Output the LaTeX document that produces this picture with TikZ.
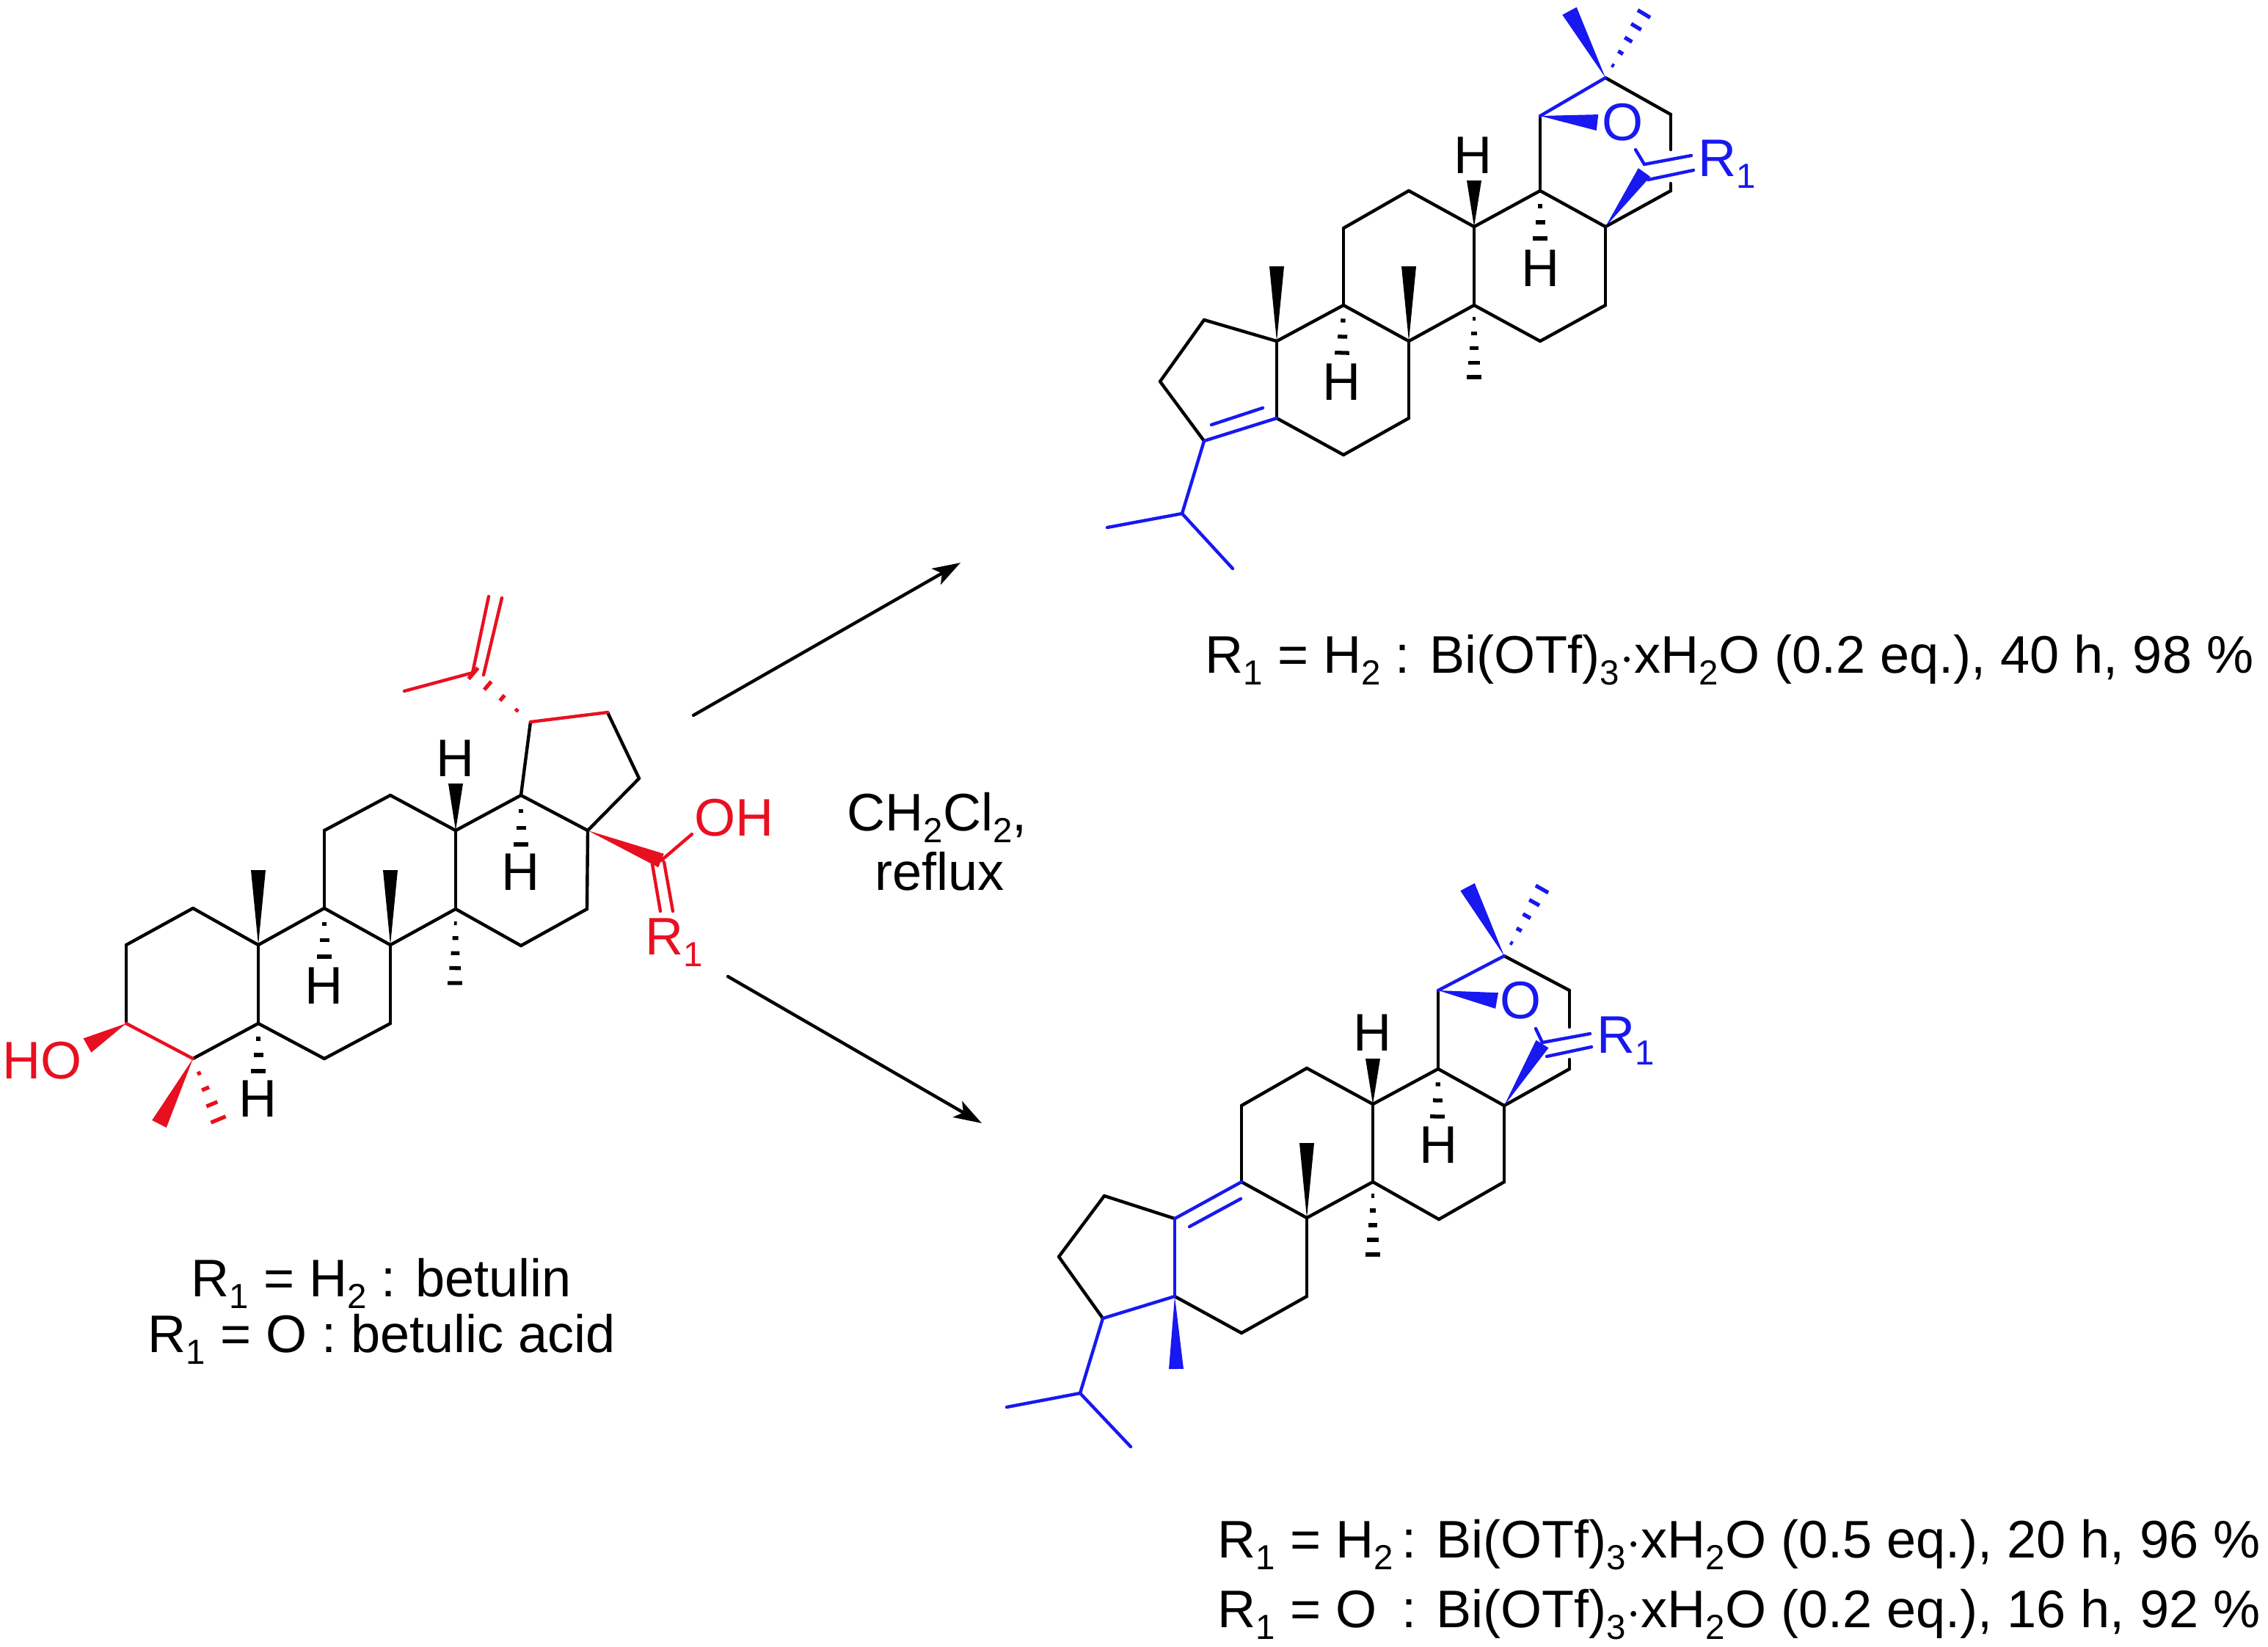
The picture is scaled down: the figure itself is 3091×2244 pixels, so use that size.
\documentclass[tikz,border=0pt]{standalone}
\usepackage{fontspec}
\setmainfont{Liberation Sans}
\usetikzlibrary{calc,arrows.meta}

\definecolor{redbond}{RGB}{232,16,32}
\definecolor{bluebond}{RGB}{24,24,240}

\newcommand{\subtxt}[1]{\raisebox{-4.8pt}[0pt][0pt]{\fontsize{13.5}{14}\selectfont #1}}
\newcommand{\wedgebond}[4][black]{\fill[#1] (#2) -- ($(#3)!#4!90:(#2)$) -- ($(#3)!#4!-90:(#2)$) -- cycle;}
\newcommand{\hashbond}[5][black]{%
    \foreach \i in {1,...,#5} {
        \pgfmathsetmacro{\t}{(\i-0.05)/#5}
        \draw[#1, line width=1.5pt, line cap=butt]
            ($($(#2)!\t!(#3)$)!\t*#4!90:(#3)$) -- ($($(#2)!\t!(#3)$)!\t*#4!-90:(#3)$);
    }
}

\tikzset{
    bond/.style={line width=1.25pt, line cap=round, line join=round},
    atomlabel/.style={inner sep=0pt, anchor=base},
    caption/.style={inner sep=0pt, anchor=base west},
    textsize/.style={font=\fontsize{20.5}{24}\selectfont}
}

\begin{document}
\begin{tikzpicture}[x=0.01cm, y=-0.01cm, textsize, >={Stealth[length=0.38cm, width=0.25cm, inset=0.09cm]}]
    \useasboundingbox (0,0) rectangle (3091,2244);

    % Betulin atoms
    \foreach \name/\px/\py in {la/172/1395, lb/172/1288, lc/263/1238, ld/352/1288, le/352/1395, lf/263/1443,
        lg/442/1238, lh/532/1288, li/532/1395, lj/442/1443, lk/442/1132, ll/532/1084, lm/621/1132, ln/621/1239,
        lo/710/1289, lp/800/1239, lq/801/1132, lr/710/1084, ls/723/984, lt/828/971, lu/871/1061,
        lv/644/917, lw/551/942, lvb/659/920, lx/666/813, ly/684/815,
        lz/901/1173, loh/943/1137, lr1a/889/1178, lr1b/900/1242, lr1c/905/1175, lr1d/917/1242,
        lmeA/352/1186, lmeB/532/1186, lmeC/620/1341, lmeD/217/1532, lmeE/298/1527,
        lhA/621/1068, lhB/710/1152, lhC/442/1305, lhD/352/1461, lho/119/1425}
        \coordinate (\name) at (\px,\py);

    % Betulin bonds
    \foreach \p/\q in {la/lb, lb/lc, lc/ld, ld/le, le/lf, ld/lg, lg/lh, lh/li, li/lj, lj/le, lg/lk, lk/ll, ll/lm,
        lm/ln, ln/lh, lm/lr, lr/lq, lq/lp, lp/lo, lo/ln, lr/ls, lt/lu, lu/lq}
        \draw[bond] (\p) -- (\q);
    \foreach \p/\q in {la/lf, ls/lt, lv/lw, lv/lx, lvb/ly, lz/loh, lr1a/lr1b, lr1c/lr1d}
        \draw[bond, redbond] (\p) -- (\q);
    \wedgebond{lm}{lhA}{0.1cm}
    \wedgebond{ld}{lmeA}{0.1cm}
    \wedgebond{lh}{lmeB}{0.1cm}
    \wedgebond[redbond]{lq}{lz}{0.1cm}
    \wedgebond[redbond]{la}{lho}{0.11cm}
    \wedgebond[redbond]{lf}{lmeD}{0.11cm}
    \hashbond{lr}{lhB}{0.1cm}{3}
    \hashbond{lg}{lhC}{0.1cm}{3}
    \hashbond{le}{lhD}{0.1cm}{3}
    \hashbond{ln}{lmeC}{0.1cm}{5}
    \hashbond[redbond]{lf}{lmeE}{0.11cm}{4}
    \hashbond[redbond]{ls}{lv}{0.1cm}{4}

    % Betulin labels
    \node[atomlabel] (lHa) at (621,1058) {H};
    \node[atomlabel] (lHb) at (710,1213) {H};
    \node[atomlabel] (lHc) at (442,1368) {H};
    \node[atomlabel] (lHd) at (352,1522) {H};
    \node[caption, text=redbond] (lHO) at (3,1470) {HO};
    \node[caption, text=redbond] (lOH) at (946,1139) {OH};
    \node[caption, text=redbond] (lR) at (879,1301) {R\subtxt{1}};

    % Upper product atoms
    \foreach \name/\px/\py in {ta/1641/436, tb/1581/520, tc/1641/601, td/1740/570, te/1740/465, tf/1831/416,
        tg/1920/465, th/1920/570, ti/1831/620, tj/1831/311, tk/1920/260, tl/2009/309, tm/2009/416, tn/2099/465,
        tp/2188/416, tq/2188/309, tr/2099/260, ts/2099/158, tt/2188/106, tu/2277/156, tv/2277/204, tw/2277/250,
        tx/2277/260, tdA/1651/579, tdB/1721/556, ty/1611/700, tz/1509/719, tzz/1680/775,
        tco/2241/224, tca/2229/204, tcb/2241/224, tcc/2305/212, tcd/2246/245, tce/2308/232, tcw/2241/235,
        tmeA/2139/15, tmeB/2241/18, tmeC/1740/363, tmeD/1920/363, tmeE/2009/515, toW/2177/167,
        thA/2009/246, thB/2099/326, thC/1829/482}
        \coordinate (\name) at (\px,\py);

    % Upper product bonds
    \foreach \p/\q in {ta/tb, tb/tc, ta/te, te/td, td/ti, ti/th, th/tg, tg/tf, tf/te, tf/tj, tj/tk, tk/tl,
        tl/tm, tm/tg, tm/tn, tn/tp, tp/tq, tq/tx, tx/tw, tq/tr, tr/tl, tr/ts, tt/tu, tu/tv}
        \draw[bond] (\p) -- (\q);
    \foreach \p/\q in {tc/td, tdA/tdB, tc/ty, ty/tz, ty/tzz, ts/tt, tca/tco, tcb/tcc, tcd/tce}
        \draw[bond, bluebond] (\p) -- (\q);
    \wedgebond{tl}{thA}{0.1cm}
    \wedgebond{te}{tmeC}{0.1cm}
    \wedgebond{tg}{tmeD}{0.1cm}
    \wedgebond[bluebond]{tt}{tmeA}{0.11cm}
    \wedgebond[bluebond]{ts}{toW}{0.11cm}
    \wedgebond[bluebond]{tq}{tcw}{0.1cm}
    \hashbond{tr}{thB}{0.1cm}{3}
    \hashbond{tf}{thC}{0.1cm}{3}
    \hashbond{tm}{tmeE}{0.1cm}{5}
    \hashbond[bluebond]{tt}{tmeB}{0.1cm}{5}

    % Upper product labels
    \node[atomlabel] (tHa) at (2008,236) {H};
    \node[atomlabel] (tHb) at (2099,390) {H};
    \node[atomlabel] (tHc) at (1829,545) {H};
    \node[atomlabel, text=bluebond] (tO) at (2212,191) {O};
    \node[caption, text=bluebond] (tR) at (2314,240) {R\subtxt{1}};

    % Lower product atoms
    \foreach \name/\px/\py in {ba/1505/1630, bb/1443/1713, bc/1503/1797, bd/1601/1767, be/1601/1661, bf/1692/1611,
        bg/1781/1660, bh/1781/1767, bi/1692/1817, bj/1692/1507, bk/1781/1456, bl/1871/1505, bm/1871/1611, bn/1961/1662,
        bp/2050/1611, bq/2050/1507, br/1960/1457, bs/1960/1350, bt/2050/1303, bu/2139/1350, bv/2139/1400, bw/2139/1444,
        bx/2139/1457, beA/1621/1672, beB/1691/1634, by/1472/1899, bz/1372/1918, bzz/1541/1972,
        bca/2093/1402, bco/2102/1421, bcc/2167/1409, bcd/2108/1440, bce/2169/1427, bcw/2102/1423,
        bmeA/2000/1209, bmeB/2102/1211, bmeC/1781/1558, bmeD/1871/1711, bmeE/1603/1866, boW/2040/1364,
        bhA/1871/1443, bhB/1959/1523}
        \coordinate (\name) at (\px,\py);

    % Lower product bonds
    \foreach \p/\q in {ba/bb, bb/bc, ba/be, bd/bi, bi/bh, bh/bg, bg/bf, bg/bm, bf/bj, bj/bk, bk/bl, bl/bm,
        bm/bn, bn/bp, bp/bq, bq/bx, bx/bw, bq/br, br/bl, br/bs, bt/bu, bu/bv}
        \draw[bond] (\p) -- (\q);
    \foreach \p/\q in {be/bf, beA/beB, be/bd, bc/bd, bc/by, by/bz, by/bzz, bs/bt, bca/bco, bco/bcc, bcd/bce}
        \draw[bond, bluebond] (\p) -- (\q);
    \wedgebond{bl}{bhA}{0.1cm}
    \wedgebond{bg}{bmeC}{0.1cm}
    \wedgebond[bluebond]{bd}{bmeE}{0.1cm}
    \wedgebond[bluebond]{bt}{bmeA}{0.11cm}
    \wedgebond[bluebond]{bs}{boW}{0.11cm}
    \wedgebond[bluebond]{bq}{bcw}{0.1cm}
    \hashbond{br}{bhB}{0.1cm}{3}
    \hashbond{bm}{bmeD}{0.1cm}{5}
    \hashbond[bluebond]{bt}{bmeB}{0.1cm}{5}

    % Lower product labels
    \node[atomlabel] (bHa) at (1871,1432) {H};
    \node[atomlabel] (bHb) at (1961,1585) {H};
    \node[atomlabel, text=bluebond] (bO) at (2073,1388) {O};
    \node[caption, text=bluebond] (bR) at (2176,1435) {R\subtxt{1}};

    % Reaction arrows
    \coordinate (arrowTopA) at (945,975);
    \coordinate (arrowTopB) at (1309,767);
    \coordinate (arrowLowA) at (992,1331);
    \coordinate (arrowLowB) at (1338,1531);
    \draw[->, bond] (arrowTopA) -- (arrowTopB);
    \draw[->, bond] (arrowLowA) -- (arrowLowB);

    % Conditions and captions
    \node[caption] (solvent) at (1154,1132) {CH\subtxt{2}Cl\subtxt{2},};
    \node[caption] (reflux) at (1192,1213) {reflux};
    \node[caption] (capA) at (260,1767) {R\subtxt{1} = H\subtxt{2} : betulin};
    \node[caption] (capB) at (201,1843) {R\subtxt{1} = O : betulic acid};
    \node[caption] (capC) at (1642,917) {R\subtxt{1} = H\subtxt{2} : Bi(OTf)\subtxt{3}$\cdot$xH\subtxt{2}O (0.2 eq.), 40 h, 98 \%};
    \node[caption] (capD) at (1659,2123) {\makebox[2.51cm][l]{R\subtxt{1} = H\subtxt{2}}: Bi(OTf)\subtxt{3}$\cdot$xH\subtxt{2}O (0.5 eq.), 20 h, 96 \%};
    \node[caption] (capE) at (1659,2218) {\makebox[2.51cm][l]{R\subtxt{1} = O}: Bi(OTf)\subtxt{3}$\cdot$xH\subtxt{2}O (0.2 eq.), 16 h, 92 \%};
\end{tikzpicture}
\end{document}
